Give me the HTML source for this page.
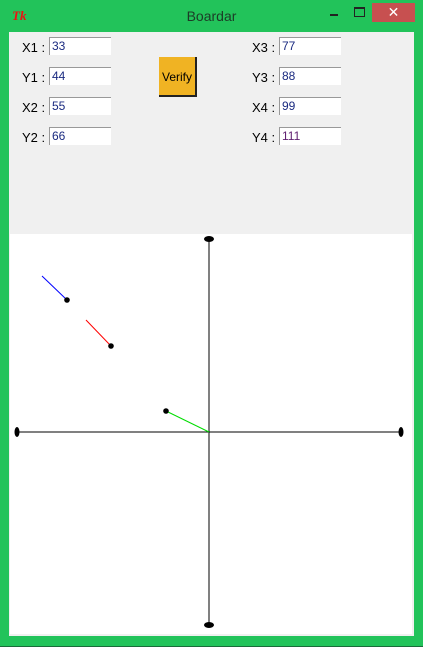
<!DOCTYPE html>
<html><head><meta charset="utf-8"><style>
body{margin:0;width:423px;height:647px;overflow:hidden;background:#22c35a;font-family:"Liberation Sans",sans-serif;}
#win{position:absolute;left:0;top:0;width:423px;height:647px;background:#22c35a;border-bottom:1px solid #1a6b3a;box-sizing:border-box;}
#title{position:absolute;left:0;top:8px;width:423px;text-align:center;font-size:14px;color:#1d3b27;}
#panel{position:absolute;left:9px;top:32px;width:405px;height:604px;background:#f0f0f0;}
.lbl{position:absolute;font-size:13px;color:#000;}
.ent{position:absolute;width:62px;height:18px;background:#fff;border-top:1px solid #999;border-left:1px solid #999;box-sizing:border-box;font-size:12px;padding-left:2px;line-height:17px;color:#1a2a80;}
#verify{position:absolute;left:159px;top:57px;width:38px;height:40px;background:#f0b323;border-right:2px solid #222;border-bottom:2px solid #222;box-sizing:border-box;font-size:12px;text-align:center;line-height:40px;}
#canvas{position:absolute;left:10px;top:234px;}
</style></head><body>
<div id="win">
<div style="position:absolute;left:12px;top:8px;color:#e11;font-style:italic;font-weight:bold;font-size:13px;font-family:'Liberation Serif',serif">Tk</div>
<div id="title">Boardar</div>
<div style="position:absolute;left:330px;top:14px;width:8px;height:2px;background:#222"></div>
<div style="position:absolute;left:354px;top:7px;width:9px;height:7px;border:1px solid #222;border-top-width:2px"></div>
<div style="position:absolute;left:372px;top:3px;width:43px;height:19px;background:#c75050;color:#fff;text-align:center;font-size:14px;line-height:19px">✕</div>
<div id="panel"></div>
<div class="lbl" style="left:22px;top:40px">X1 :</div>
<div class="ent" style="left:49px;top:37px">33</div>
<div class="lbl" style="left:22px;top:70px">Y1 :</div>
<div class="ent" style="left:49px;top:67px">44</div>
<div class="lbl" style="left:22px;top:100px">X2 :</div>
<div class="ent" style="left:49px;top:97px">55</div>
<div class="lbl" style="left:22px;top:130px">Y2 :</div>
<div class="ent" style="left:49px;top:127px">66</div>
<div id="verify">Verify</div>
<div class="lbl" style="left:252px;top:40px">X3 :</div>
<div class="ent" style="left:279px;top:37px">77</div>
<div class="lbl" style="left:252px;top:70px">Y3 :</div>
<div class="ent" style="left:279px;top:67px">88</div>
<div class="lbl" style="left:252px;top:100px">X4 :</div>
<div class="ent" style="left:279px;top:97px">99</div>
<div class="lbl" style="left:252px;top:130px">Y4 :</div>
<div class="ent" style="left:279px;top:127px;color:#602070">111</div>
<svg id="canvas" width="402" height="400">
<rect width="402" height="400" fill="#fff"/>
</svg>
</div>
<script>
// segment endpoints relative to origin (x right, y up)
const segStartX=[-167,-123,0];
const segStartY=[156,112,0];
const segEndX=[-142,-98,-43];
const segEndY=[132,86,21];
const segColors=["#0000ff","#ff0000","#00dd00"];
const segNames=["blue-segment","red-segment","green-segment"];
const axisExtent=[192,193];
const svg=document.getElementById('canvas');
const NS='http://www.w3.org/2000/svg';
const ox=199, oy=198;
const sx=v=>ox+v, sy=v=>oy-v;
function mk(t,a){const e=document.createElementNS(NS,t);for(const k in a)e.setAttribute(k,a[k]);svg.appendChild(e);return e;}
let e=mk('line',{x1:sx(-axisExtent[0]),y1:oy,x2:sx(axisExtent[0]),y2:oy,stroke:'#000','stroke-width':1});


e=mk('line',{x1:ox,y1:sy(axisExtent[1]),x2:ox,y2:sy(-axisExtent[1]),stroke:'#000','stroke-width':1});


[[sx(-axisExtent[0]),oy,2.5,5],[sx(axisExtent[0]),oy,2.5,5],[ox,sy(axisExtent[1]),5,3],[ox,sy(-axisExtent[1]),5,3]].forEach(p=>{
 const c=mk('ellipse',{cx:p[0],cy:p[1],rx:p[2],ry:p[3],fill:'#000'});
 
 
});
segStartX.forEach((v,i)=>{
 const l=mk('line',{x1:sx(v),y1:sy(segStartY[i]),x2:sx(segEndX[i]),y2:sy(segEndY[i]),stroke:segColors[i],'stroke-width':1});
 
 
 const d=mk('circle',{cx:sx(segEndX[i]),cy:sy(segEndY[i]),r:2.8,fill:'#000'});
 
 
});
</script>
</body></html>
